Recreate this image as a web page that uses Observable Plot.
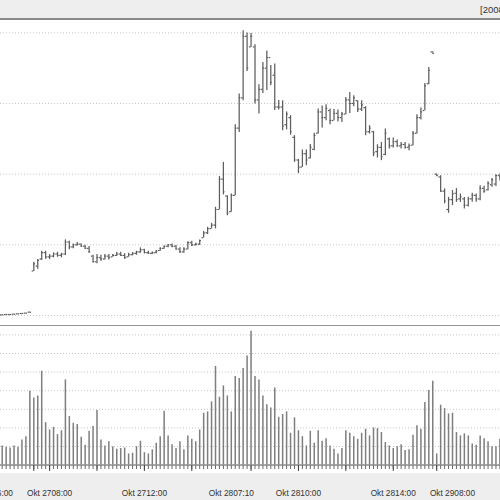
<!DOCTYPE html>
<html><head><meta charset="utf-8">
<script src="https://cdn.jsdelivr.net/npm/d3@7"></script>
<script src="https://cdn.jsdelivr.net/npm/@observablehq/plot@0.6"></script>
<style>
body{margin:0;background:#fff;}
#wrap{position:relative;width:500px;height:500px;overflow:hidden;background:#fff;font-family:"Liberation Sans",Arial,sans-serif;}
#foot{position:absolute;left:0;top:473px;width:500px;height:27px;background:#eeeeee;}
#price{position:absolute;left:0;top:0;}
#vol{position:absolute;left:0;top:326px;}
#sep{position:absolute;left:0;top:325px;width:500px;height:0;border-top:1.5px solid #929292;}
#head{position:absolute;left:0;top:0;width:500px;height:17.5px;background:#eeeeee;border-bottom:2px solid #8a8a8a;}
#head span{position:absolute;left:480px;top:4px;font-size:9.5px;line-height:11px;color:#333;white-space:nowrap;}
</style></head>
<body>
<div id="wrap">
  <div id="foot"></div>
  <div id="price"></div>
  <div id="vol"></div>
  <div id="sep"></div>
  <div id="head"><span>[2008-10-29]</span></div>
</div>
<script>
// ---- data (10-minute bars) ----
const high = [
40.10, 40.14, 40.14, 40.18, 40.24, 40.28, 40.33, 40.47,
47.53, 47.92, 49.09, 49.09, 48.62, 48.86, 48.95, 48.81, 50.70, 50.50,
50.13, 50.32, 50.13, 49.94, 49.75, 48.52, 48.62, 48.52, 48.62, 48.62,
48.62, 48.90, 48.95, 48.72, 48.81, 48.90, 49.09, 49.57, 49.37, 49.09,
49.00, 49.19, 49.57, 49.85, 50.04, 50.13, 49.89, 49.57, 49.57, 50.42,
50.50, 50.22, 50.70, 51.87, 52.48, 53.05, 55.31, 59.65, 61.67, 56.96,
57.20, 67.00, 71.33, 80.28, 79.96, 79.90, 78.30, 72.65, 75.80, 77.41,
75.38, 75.58, 70.43, 70.39, 68.80, 68.27, 65.44, 62.08, 63.42, 63.42,
64.21, 65.77, 69.22, 69.65, 69.82, 69.22, 69.15, 69.09, 68.73, 70.85,
71.56, 71.09, 70.39, 70.39, 69.54, 66.85, 66.05, 64.17, 64.49, 66.39,
65.12, 65.12, 64.83, 64.49, 64.49, 64.27, 66.05, 68.41, 69.36, 72.83,
75.09, 77.31, 60.03, 59.79, 57.91, 56.72, 57.67, 57.95, 57.20, 56.68,
56.72, 57.29, 57.20, 58.37, 58.30, 58.91, 59.39, 59.93, 60.03
];
const low = [
40.10, 40.14, 40.14, 40.18, 40.24, 40.28, 40.33, 40.47,
46.22, 46.54, 47.77, 47.96, 47.92, 48.16, 48.24, 48.16, 48.48, 49.29,
49.43, 49.85, 49.65, 49.37, 48.81, 47.45, 47.31, 47.67, 47.87, 47.87,
48.24, 48.34, 48.34, 47.96, 48.24, 48.44, 48.52, 48.81, 48.72, 48.62,
48.62, 48.72, 49.09, 49.37, 49.57, 49.57, 49.29, 48.81, 48.81, 49.29,
49.75, 49.85, 49.89, 50.98, 51.45, 52.25, 52.25, 54.94, 57.06, 54.13,
54.61, 56.96, 65.91, 70.39, 74.53, 77.92, 69.92, 68.51, 71.42, 71.84,
72.51, 69.02, 69.07, 66.15, 66.26, 65.51, 61.67, 60.07, 60.96, 61.20,
62.15, 63.32, 65.68, 66.53, 67.56, 67.00, 67.56, 67.39, 67.32, 68.41,
68.59, 69.54, 68.73, 68.88, 65.44, 65.68, 62.47, 62.29, 61.91, 62.61,
63.56, 63.70, 63.79, 63.56, 63.56, 63.32, 64.03, 65.68, 67.66, 68.97,
72.65, 77.13, 59.75, 57.43, 55.79, 54.46, 55.55, 56.01, 56.01, 55.08,
55.36, 56.01, 56.01, 56.25, 57.31, 57.63, 58.13, 58.26, 59.04
];
const open = [
40.10, 40.14, 40.14, 40.18, 40.24, 40.28, 40.33, 40.47,
46.3, 47.0, 48.0, 48.9, 48.3, 48.4, 48.7, 48.5, 48.7, 50.4,
49.7, 50.0, 50.1, 49.8, 49.5, 48.4, 47.6, 48.2, 48.0, 48.4,
48.3, 48.5, 48.7, 48.5, 48.3, 48.6, 48.8, 49.0, 49.3, 48.9,
48.8, 48.9, 49.2, 49.5, 49.8, 50.0, 49.8, 49.4, 49.0, 49.4,
50.3, 50.0, 50.1, 51.0, 51.7, 52.3, 52.8, 55.0, 59.3, 56.9,
54.7, 57.0, 66.5, 70.8, 79.5, 78.0, 78.0, 70.5, 72.0, 75.0,
76.5, 74.0, 69.5, 69.5, 67.0, 68.0, 65.2, 62.0, 61.0, 62.9,
62.3, 63.5, 65.8, 68.8, 68.0, 69.0, 67.6, 68.6, 68.0, 68.5,
70.5, 70.0, 70.4, 69.2, 69.4, 66.0, 66.0, 63.2, 63.8, 62.8,
65.0, 64.0, 64.6, 64.0, 64.2, 63.8, 64.1, 65.8, 68.0, 69.0,
72.8, 77.3, 60.0, 59.6, 57.6, 55.0, 56.4, 57.3, 56.5, 56.5,
55.6, 56.5, 57.0, 56.5, 58.0, 57.8, 58.5, 58.6, 59.8
];
const close = [
40.10, 40.14, 40.14, 40.18, 40.24, 40.28, 40.33, 40.47,
47.3, 47.8, 48.9, 48.3, 48.4, 48.7, 48.5, 48.7, 50.4, 49.7,
50.0, 50.1, 49.8, 49.5, 49.0, 47.6, 48.2, 48.0, 48.4, 48.2,
48.5, 48.7, 48.5, 48.2, 48.6, 48.8, 49.0, 49.3, 48.9, 48.8,
48.9, 49.1, 49.5, 49.8, 50.0, 49.8, 49.4, 49.0, 49.4, 50.3,
50.0, 50.1, 50.6, 51.7, 52.3, 52.8, 55.0, 59.3, 57.5, 54.5,
57.0, 66.5, 70.8, 79.5, 75.0, 79.5, 70.5, 72.0, 75.0, 76.5,
73.0, 69.5, 69.5, 66.8, 68.5, 66.0, 62.0, 61.0, 62.9, 62.0,
63.8, 65.5, 68.8, 68.0, 69.3, 67.6, 68.6, 68.0, 68.5, 70.5,
70.0, 70.8, 69.2, 69.8, 66.0, 66.5, 63.0, 63.8, 62.5, 65.8,
64.0, 64.6, 64.0, 64.2, 63.8, 64.0, 65.8, 68.0, 68.8, 72.5,
74.7, 77.1, 59.8, 57.6, 56.2, 56.4, 57.2, 56.4, 56.8, 55.6,
56.5, 57.0, 56.5, 58.0, 57.6, 58.7, 59.2, 59.8, 59.6
];
const volume = [
1.03, 0.96, 0.92, 1.03, 0.96, 1.35, 1.53, 3.97, 3.61, 3.72,
5.04, 2.28, 1.89, 2.03, 1.64, 1.85, 4.58, 2.61, 2.25, 2.18,
1.50, 1.07, 1.82, 2.07, 2.93, 1.35, 1.03, 1.25, 0.99, 0.85,
0.89, 0.92, 0.60, 0.64, 0.99, 1.28, 0.67, 0.60, 0.82, 1.17,
1.53, 2.89, 1.57,
1.10, 0.89, 1.25, 0.82, 1.57, 1.39, 1.25, 1.89, 2.79, 2.86,
3.40, 5.30, 3.65, 4.26, 3.72, 2.86, 4.76, 4.65, 5.19, 5.87,
7.20, 4.76, 4.58, 3.72, 3.25, 3.07, 4.15, 2.57, 2.72, 2.86,
1.71, 2.54, 1.85, 1.53, 1.03, 1.82, 1.17, 1.85, 1.28, 1.42,
1.03, 0.85, 0.60,
0.89, 1.85, 1.71, 1.53, 1.39, 1.71, 1.93, 1.57, 2.00, 1.96,
1.75, 1.21, 1.03, 0.89, 0.99, 1.10, 0.78, 0.82, 1.60, 2.11,
1.93, 3.36, 4.01, 4.51, 0.60, 3.22, 3.04, 2.75, 2.79, 1.75,
1.57, 1.68, 1.57, 1.14, 1.07, 1.57, 1.42, 1.25, 0.99, 0.99,
1.39
];
const priceGrid = [40, 50, 60, 70, 80];
const volumeGrid = [1, 2, 3, 4, 5, 6, 7];
const labelBars = [-3, 12, 36, 58, 75, 99, 114];
const labelText = ["Okt 2416:00", "Okt 2708:00", "Okt 2712:00", "Okt 2807:10", "Okt 2810:00", "Okt 2814:00", "Okt 2908:00"];
const majorTickBars = [8, 12, 24, 36, 48, 63, 75, 87, 99, 110];

// ---- tables built from the arrays ----
const bars = high.map((h, i) => ({i, high: h, low: low[i], open: open[i], close: close[i], volume: volume[i]}));
const labels = labelBars.map((b, k) => ({i: b, label: labelText[k]}));
const barIdx = bars.map(d => d.i);

const xScale = {domain: [0, 126], range: [1.7, 499.4], axis: null};
const barColor = "#5e5e5e";
const gridStyle = {stroke: "#c6c6c6", strokeDasharray: "1,2", strokeWidth: 1};

const price = Plot.plot({
  width: 500, height: 326, margin: 0,
  style: {background: "transparent", overflow: "visible"},
  x: xScale,
  y: {domain: [40, 80], range: [315, 32.3], axis: null},
  marks: [
    Plot.ruleY(priceGrid, gridStyle),
    Plot.ruleX(bars, {x: "i", y1: "low", y2: "high", stroke: barColor, strokeWidth: 1.25}),
    Plot.ruleY(bars, {y: "open", x1: d => d.i - 0.42, x2: "i", stroke: barColor, strokeWidth: 1.2}),
    Plot.ruleY(bars, {y: "close", x1: "i", x2: d => d.i + 0.42, stroke: barColor, strokeWidth: 1.2})
  ]
});
document.getElementById("price").appendChild(price);

const vol = Plot.plot({
  width: 500, height: 174, marginTop: 0, marginLeft: 0, marginRight: 0, marginBottom: 35,
  style: {background: "transparent", overflow: "visible"},
  x: xScale,
  y: {domain: [0, 7], range: [138.6, 8.4], axis: null},
  marks: [
    Plot.ruleY(volumeGrid, gridStyle),
    Plot.ruleX(bars, {x: "i", y1: 0, y2: "volume", stroke: "#7e7e7e", strokeWidth: 1.5}),
    Plot.ruleY([0], {stroke: "#8a8a8a", strokeWidth: 1.5}),
    Plot.axisX(barIdx, {anchor: "bottom", tickSize: 4, tickFormat: () => "", label: null, stroke: "#6a6a6a"}),
    Plot.axisX(majorTickBars, {anchor: "bottom", tickSize: 6, tickFormat: () => "", label: null, stroke: "#444"}),
    Plot.text(labels, {x: "i", text: "label", frameAnchor: "bottom", dy: 27.5, lineAnchor: "middle",
      fontSize: 8.3, fill: "#333", fontFamily: "Liberation Sans, Arial, sans-serif"})
  ]
});
document.getElementById("vol").appendChild(vol);
</script>
</body></html>
